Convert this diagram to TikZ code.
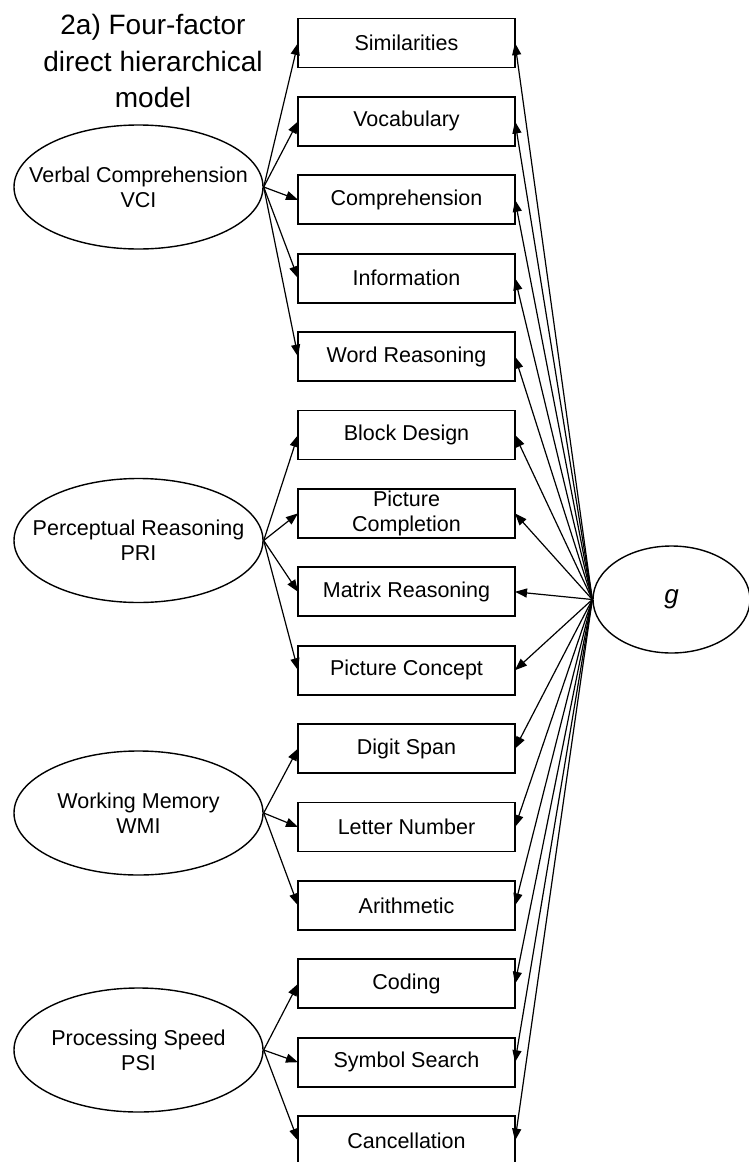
\documentclass[tikz,border=0pt]{standalone}
\usepackage{fontspec}
\setmainfont{Liberation Sans}
\usetikzlibrary{shapes.geometric, arrows.meta, positioning}
\tikzset{
  subtest/.style={rectangle, draw, line width=1.7pt, minimum width=217pt,
                  minimum height=49pt, inner sep=0pt, outer sep=0pt,
                  align=center, font=\fontsize{21.5}{25}\selectfont},
  factor/.style={ellipse, draw, line width=1.4pt, minimum width=249pt,
                 minimum height=124pt, inner xsep=-25pt, inner ysep=0pt,
                 align=center, font=\fontsize{21.5}{25}\selectfont},
  loading/.style={-{Triangle[length=12pt, width=9pt]}, line width=1.2pt},
}

\begin{document}
\begin{tikzpicture}[x=1pt, y=-1pt, node distance=29.4pt]
  \useasboundingbox (0,0) rectangle (749,1162);

  %% title
  \node[align=center, font=\fontsize{28}{36.5}\selectfont] (title) at (153,61)
        {2a) Four-factor\\direct hierarchical\\model};

  %% ── SUBTESTS (middle column, top-to-bottom) ─────────────────────────────
  \node[subtest] (sim) at (406.5,43) {Similarities};
  \node[subtest, below=of sim] (voc) {Vocabulary};
  \node[subtest, below=of voc] (com) {Comprehension};
  \node[subtest, below=of com] (inf) {Information};
  \node[subtest, below=of inf] (wr)  {Word Reasoning};
  \node[subtest, below=of wr]  (bd)  {Block Design};
  \node[subtest, below=of bd]  (pcm) {Picture\\Completion};
  \node[subtest, below=of pcm] (mr)  {Matrix Reasoning};
  \node[subtest, below=of mr]  (pcn) {Picture Concept};
  \node[subtest, below=of pcn] (ds)  {Digit Span};
  \node[subtest, below=of ds]  (ln)  {Letter Number};
  \node[subtest, below=of ln]  (ar)  {Arithmetic};
  \node[subtest, below=of ar]  (cd)  {Coding};
  \node[subtest, below=of cd]  (ss)  {Symbol Search};
  \node[subtest, below=of ss]  (ca)  {Cancellation};

  %% ── FIRST-ORDER FACTORS (left column) ──────────────────────────────────
  \node[factor] (vci) at (138.5,187)   {Verbal Comprehension\\VCI};
  \node[factor] (pri) at (138.5,540.5) {Perceptual Reasoning\\PRI};
  \node[factor] (wmi) at (138.5,813)   {Working Memory\\WMI};
  \node[factor] (psi) at (138.5,1050)  {Processing Speed\\PSI};

  %% ── GENERAL FACTOR (right) ─────────────────────────────────────────────
  \node[factor, minimum width=157pt, minimum height=107pt,
        font=\fontsize{26}{30}\selectfont\itshape] (g) at (671.5,599.5) {g};

  %% ── FACTOR LOADINGS ────────────────────────────────────────────────────
  \foreach \b in {sim, voc, com, inf, wr}{
    \draw[loading] (vci.east) -- (\b.west);
  }
  \foreach \b in {bd, pcm, mr, pcn}{
    \draw[loading] (pri.east) -- (\b.west);
  }
  \foreach \b in {ds, ln, ar}{
    \draw[loading] (wmi.east) -- (\b.west);
  }
  \foreach \b in {cd, ss, ca}{
    \draw[loading] (psi.east) -- (\b.west);
  }

  %% ── g LOADINGS ─────────────────────────────────────────────────────────
  \foreach \b in {sim, voc, com, inf, wr, bd, pcm, mr, pcn, ds, ln, ar, cd, ss, ca}{
    \draw[loading] (g.west) -- (\b.east);
  }

\end{tikzpicture}
\end{document}
